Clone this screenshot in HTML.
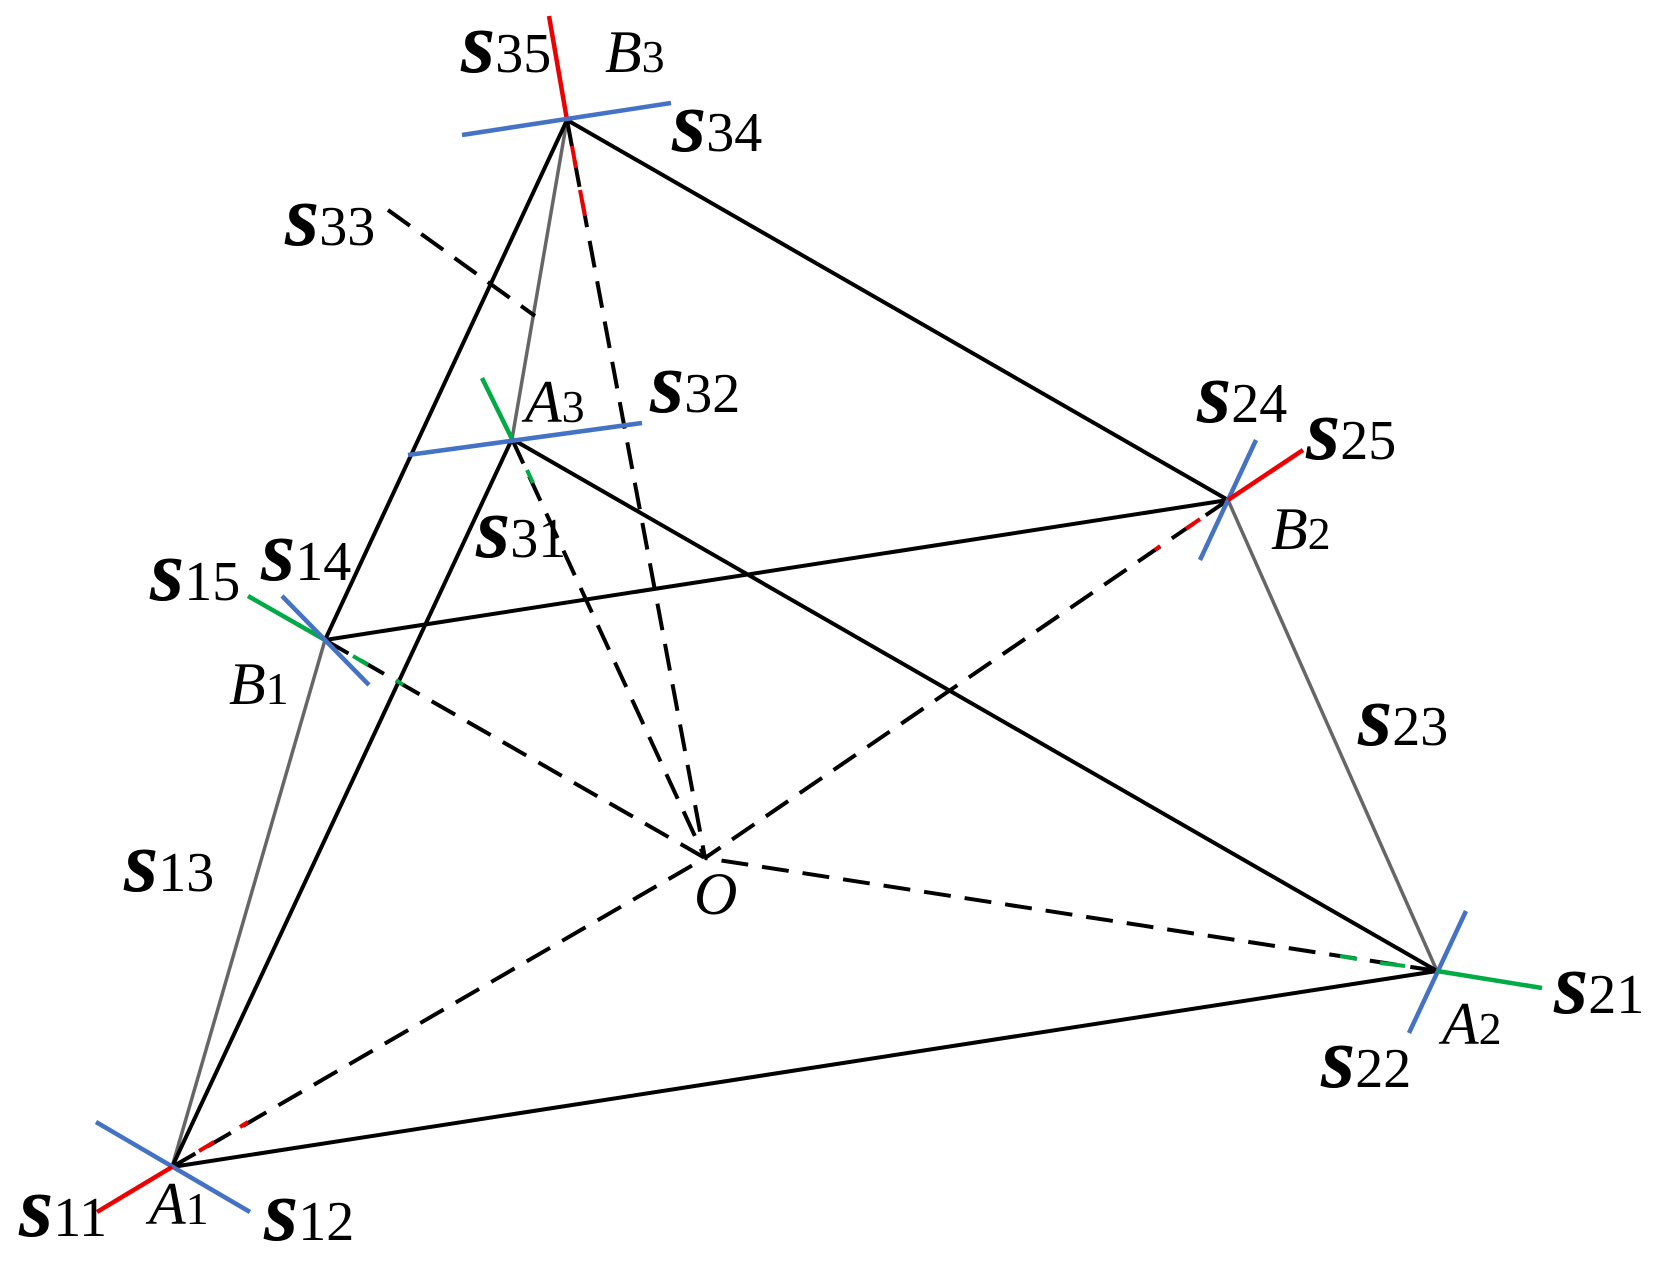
<!DOCTYPE html>
<html><head><meta charset="utf-8"><style>
html,body{margin:0;padding:0;background:#fff;}
svg{display:block;}
text,tspan{font-family:"Liberation Serif","Times New Roman",Times,serif;}
.s{font-weight:bold;font-style:italic;font-size:88px;}
.n{font-size:56px;}
.it{font-style:italic;font-size:60px;}
.sub{font-size:46px;}
</style></head><body>
<svg width="1656" height="1269" viewBox="0 0 1656 1269" xmlns="http://www.w3.org/2000/svg">
<g stroke-linecap="butt" fill="none">
<g stroke="#666" stroke-width="3.5">
<line x1="567" y1="120" x2="512" y2="439"/>
<line x1="325" y1="640" x2="172" y2="1167"/>
<line x1="1228" y1="500" x2="1437" y2="971"/>
</g>
<g stroke="#000" stroke-width="4">
<line x1="567" y1="120" x2="325" y2="640"/>
<line x1="567" y1="120" x2="1228" y2="500"/>
<line x1="512" y1="439" x2="172" y2="1167"/>
<line x1="512" y1="439" x2="1437" y2="971"/>
<line x1="325" y1="640" x2="1228" y2="500"/>
<line x1="172" y1="1167" x2="1437" y2="971"/>
</g>
<g stroke="#000" stroke-width="4" stroke-dasharray="27 14">
<line x1="567" y1="120" x2="705" y2="858"/>
<line x1="512" y1="439" x2="705" y2="858"/>
<line x1="325" y1="640" x2="705" y2="858"/>
<line x1="1228" y1="500" x2="705" y2="858"/>
<line x1="172" y1="1167" x2="705" y2="858"/>
<line x1="1437" y1="971" x2="705" y2="858"/>
<line x1="388" y1="210" x2="535" y2="316"/>
</g>
<g stroke-width="4">
<line x1="572" y1="146" x2="576" y2="168" stroke="#e00"/>
<line x1="580" y1="190" x2="585" y2="216" stroke="#e00"/>
<line x1="527" y1="470" x2="533" y2="483" stroke="#0a4"/>
<line x1="353" y1="656" x2="368" y2="665" stroke="#0a4"/>
<line x1="396" y1="680" x2="403" y2="685" stroke="#0a4"/>
<line x1="1186" y1="529" x2="1200" y2="519" stroke="#e00"/>
<line x1="1155" y1="550" x2="1160" y2="546" stroke="#e00"/>
<line x1="199" y1="1151" x2="214" y2="1142" stroke="#e00"/>
<line x1="240" y1="1127" x2="248" y2="1122" stroke="#e00"/>
<line x1="1340" y1="956" x2="1357" y2="959" stroke="#0a4"/>
<line x1="1380" y1="963" x2="1405" y2="966" stroke="#0a4"/>
</g>
<g stroke-width="4.5">
<line x1="549" y1="16" x2="567" y2="120" stroke="#e00"/>
<line x1="462" y1="135" x2="671" y2="103" stroke="#4472c4"/>
<line x1="482" y1="378" x2="512" y2="439" stroke="#0a4"/>
<line x1="408" y1="455" x2="642" y2="423" stroke="#4472c4"/>
<line x1="248" y1="596" x2="325" y2="640" stroke="#0a4"/>
<line x1="282" y1="596" x2="369" y2="685" stroke="#4472c4"/>
<line x1="1256" y1="440" x2="1200" y2="560" stroke="#4472c4"/>
<line x1="1303" y1="450" x2="1228" y2="500" stroke="#e00"/>
<line x1="1466" y1="911" x2="1409" y2="1033" stroke="#4472c4"/>
<line x1="1437" y1="971" x2="1542" y2="988" stroke="#0a4"/>
<line x1="96" y1="1122" x2="250" y2="1212" stroke="#4472c4"/>
<line x1="97" y1="1212" x2="172" y2="1167" stroke="#e00"/>
</g>
</g>
<g font-family="Liberation Serif, serif" fill="#000">
<text x="461" y="72"><tspan class="s">s</tspan><tspan class="n">35</tspan></text>
<text x="605" y="72"><tspan class="it">B</tspan><tspan class="sub">3</tspan></text>
<text x="672" y="151"><tspan class="s">s</tspan><tspan class="n">34</tspan></text>
<text x="285" y="245"><tspan class="s">s</tspan><tspan class="n">33</tspan></text>
<text x="525" y="422"><tspan class="it">A</tspan><tspan class="sub">3</tspan></text>
<text x="650" y="412"><tspan class="s">s</tspan><tspan class="n">32</tspan></text>
<text x="1197" y="422"><tspan class="s">s</tspan><tspan class="n">24</tspan></text>
<text x="1306" y="459"><tspan class="s">s</tspan><tspan class="n">25</tspan></text>
<text x="1271" y="549"><tspan class="it">B</tspan><tspan class="sub">2</tspan></text>
<text x="476" y="557"><tspan class="s">s</tspan><tspan class="n">31</tspan></text>
<text x="261" y="580"><tspan class="s">s</tspan><tspan class="n">14</tspan></text>
<text x="150" y="600"><tspan class="s">s</tspan><tspan class="n">15</tspan></text>
<text x="229" y="704"><tspan class="it">B</tspan><tspan class="sub">1</tspan></text>
<text x="1358" y="745"><tspan class="s">s</tspan><tspan class="n">23</tspan></text>
<text x="124" y="891"><tspan class="s">s</tspan><tspan class="n">13</tspan></text>
<text x="694" y="914" class="it" style="font-size:60px">O</text>
<text x="1442" y="1044"><tspan class="it">A</tspan><tspan class="sub">2</tspan></text>
<text x="1554" y="1013"><tspan class="s">s</tspan><tspan class="n">21</tspan></text>
<text x="1321" y="1087"><tspan class="s">s</tspan><tspan class="n">22</tspan></text>
<text x="19" y="1236"><tspan class="s">s</tspan><tspan class="n">11</tspan></text>
<text x="149" y="1224"><tspan class="it">A</tspan><tspan class="sub">1</tspan></text>
<text x="264" y="1240"><tspan class="s">s</tspan><tspan class="n">12</tspan></text>
</g>
</svg>
</body></html>
